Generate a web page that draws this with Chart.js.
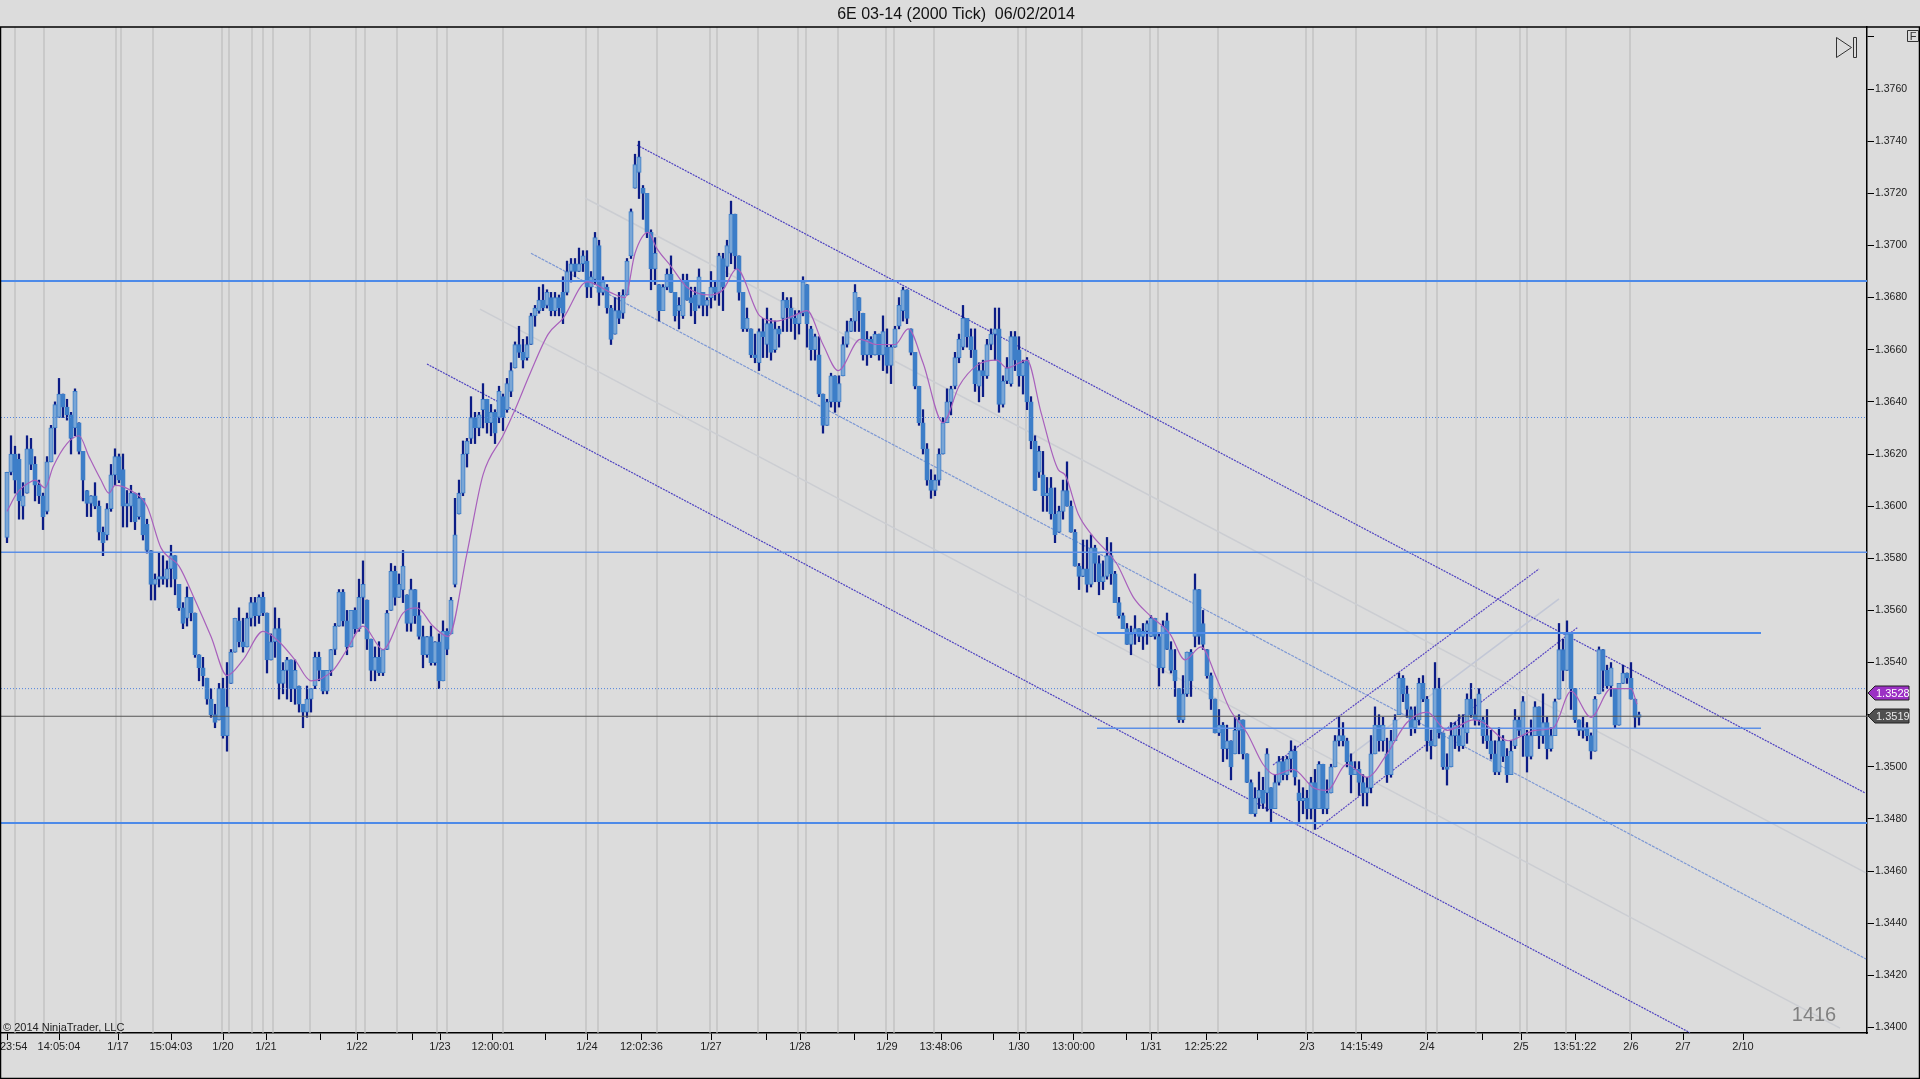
<!DOCTYPE html>
<html lang="en">
<head>
<meta charset="UTF-8" />
<title>6E 03-14 (2000 Tick)</title>
<style>
    body { margin: 0; background: #dcdcdc; overflow: hidden; }
    canvas { display: block; }
</style>
<script src="https://cdn.jsdelivr.net/npm/chart.js"></script>
</head>
<body>
<canvas id="chart" width="1920" height="1079"></canvas>
<script>
// all prices are in pips (1.3612 -> 13612), x values are bar numbers
const opens = [
13588,13613,13620,13618,13600,13605,13622,13616,13608,13604,
13598,13617,13630,13634,13643,13638,13635,13630,13632,13621,
13606,13601,13604,13600,13590,13589,13599,13612,13619,13614,
13600,13600,13605,13596,13603,13593,13583,13570,13572,13573,
13572,13576,13581,13570,13561,13557,13565,13559,13543,13538,
13534,13526,13520,13518,13530,13512,13532,13544,13556,13548,
13546,13557,13563,13558,13565,13559,13541,13548,13553,13532,
13537,13541,13530,13531,13524,13521,13526,13531,13542,13537,
13529,13537,13545,13554,13567,13556,13546,13560,13553,13565,
13564,13549,13537,13542,13536,13545,13560,13575,13565,13568,
13566,13555,13568,13558,13550,13543,13550,13540,13548,13533,
13552,13551,13570,13597,13605,13620,13626,13634,13630,13637,
13641,13632,13636,13634,13642,13637,13644,13653,13662,13659,
13657,13662,13673,13675,13679,13677,13680,13675,13680,13682,
13682,13690,13693,13690,13693,13694,13684,13687,13700,13682,
13684,13676,13666,13675,13674,13681,13696,13722,13728,13722,
13720,13705,13691,13685,13675,13684,13689,13682,13675,13673,
13686,13680,13681,13677,13682,13677,13680,13684,13682,13695,
13692,13697,13712,13696,13682,13668,13668,13658,13655,13667,
13662,13670,13660,13668,13672,13679,13676,13672,13670,13674,
13685,13668,13660,13658,13643,13631,13640,13650,13640,13650,
13662,13667,13671,13680,13674,13658,13664,13658,13666,13658,
13661,13654,13661,13669,13675,13683,13668,13659,13646,13632,
13622,13610,13606,13610,13620,13632,13640,13646,13657,13661,
13672,13665,13660,13646,13652,13650,13662,13666,13668,13639,
13648,13647,13665,13660,13650,13656,13640,13625,13613,13612,
13604,13607,13597,13590,13598,13606,13600,13590,13577,13573,
13576,13570,13584,13578,13571,13573,13581,13574,13563,13558,
13553,13547,13551,13553,13550,13552,13550,13557,13550,13538,
13556,13545,13537,13530,13518,13528,13544,13550,13568,13555,
13545,13535,13526,13513,13516,13507,13510,13505,13514,13518,
13505,13494,13482,13488,13491,13490,13492,13484,13494,13502,
13497,13503,13506,13490,13487,13488,13484,13494,13484,13501,
13484,13490,13500,13510,13512,13510,13502,13497,13499,13494,
13490,13492,13505,13516,13510,13505,13497,13510,13520,13534,
13528,13522,13515,13518,13532,13526,13510,13508,13530,13513,
13500,13500,13512,13512,13508,13513,13526,13520,13518,13518,
13512,13510,13505,13498,13510,13504,13497,13508,13518,13512,
13512,13504,13512,13523,13512,13517,13507,13512,13526,13545,
13537,13551,13530,13518,13514,13515,13512,13506,13528,13545,
13537,13531,13530,13516,13532,13536,13534,13526,13519];
const highs = [
13613,13627,13623,13620,13609,13627,13626,13619,13610,13605,
13619,13631,13640,13649,13643,13641,13636,13645,13632,13621,
13606,13604,13609,13602,13592,13601,13616,13622,13620,13620,
13606,13608,13605,13605,13603,13595,13583,13574,13582,13581,
13579,13585,13581,13570,13563,13569,13565,13559,13543,13542,
13534,13530,13524,13532,13534,13540,13545,13557,13561,13557,
13559,13565,13565,13566,13567,13559,13551,13561,13557,13540,
13542,13541,13541,13531,13524,13531,13530,13544,13544,13537,
13537,13545,13555,13568,13568,13560,13560,13561,13572,13579,
13564,13549,13546,13548,13545,13560,13578,13577,13574,13583,
13566,13572,13568,13563,13554,13550,13554,13548,13551,13556,
13553,13565,13603,13610,13625,13626,13642,13636,13636,13647,
13641,13639,13637,13646,13643,13649,13655,13663,13669,13664,
13665,13674,13677,13684,13685,13683,13682,13682,13681,13688,
13694,13695,13695,13699,13698,13698,13690,13705,13702,13688,
13685,13677,13680,13682,13683,13695,13714,13735,13740,13723,
13720,13706,13703,13685,13685,13691,13696,13682,13680,13689,
13689,13684,13684,13691,13682,13680,13690,13686,13697,13697,
13702,13717,13712,13696,13682,13676,13668,13666,13668,13672,
13676,13672,13671,13669,13682,13680,13680,13675,13675,13688,
13685,13669,13666,13665,13643,13641,13651,13650,13650,13665,
13671,13672,13685,13680,13674,13667,13665,13667,13666,13673,
13668,13662,13669,13680,13684,13683,13668,13659,13646,13637,
13624,13614,13612,13622,13634,13645,13646,13659,13666,13677,
13672,13668,13668,13655,13656,13664,13668,13676,13676,13650,
13657,13667,13667,13665,13656,13657,13642,13627,13623,13621,
13611,13611,13607,13600,13610,13617,13602,13591,13578,13587,
13587,13589,13585,13581,13579,13588,13586,13575,13565,13559,
13555,13554,13558,13553,13555,13556,13558,13557,13551,13556,
13559,13548,13545,13530,13535,13544,13545,13574,13568,13560,
13545,13536,13526,13522,13517,13516,13510,13519,13520,13518,
13505,13495,13492,13498,13496,13507,13492,13497,13504,13504,
13504,13510,13508,13495,13492,13491,13496,13499,13502,13501,
13495,13501,13512,13519,13517,13511,13505,13502,13502,13497,
13496,13512,13523,13520,13519,13511,13514,13520,13536,13535,
13531,13523,13523,13534,13535,13527,13514,13540,13534,13513,
13505,13517,13517,13520,13520,13528,13532,13526,13530,13519,
13522,13514,13510,13515,13512,13507,13510,13522,13519,13527,
13514,13518,13525,13523,13528,13519,13515,13526,13555,13549,
13556,13551,13530,13518,13519,13517,13513,13527,13546,13545,
13539,13540,13530,13532,13539,13536,13540,13526,13521];
const lows = [
13586,13612,13605,13595,13595,13605,13614,13602,13601,13591,
13597,13617,13620,13634,13634,13633,13620,13627,13620,13602,
13596,13596,13599,13587,13581,13587,13598,13608,13609,13592,
13592,13594,13591,13595,13587,13582,13564,13564,13569,13570,
13569,13569,13566,13560,13553,13554,13556,13542,13533,13531,
13524,13519,13515,13518,13511,13506,13532,13544,13546,13544,
13546,13554,13554,13555,13558,13536,13541,13542,13526,13528,
13526,13525,13524,13521,13515,13519,13521,13530,13533,13528,
13528,13535,13543,13554,13554,13543,13546,13551,13552,13555,
13545,13533,13533,13535,13535,13545,13560,13562,13565,13563,
13552,13552,13555,13549,13538,13542,13539,13539,13530,13533,
13543,13551,13569,13597,13604,13615,13624,13624,13627,13630,
13628,13627,13624,13632,13629,13636,13642,13653,13657,13653,
13656,13662,13669,13674,13675,13676,13673,13673,13673,13670,
13681,13686,13688,13690,13690,13680,13680,13685,13677,13681,
13674,13662,13666,13670,13672,13681,13695,13722,13718,13710,
13703,13683,13685,13671,13675,13683,13682,13671,13668,13672,
13679,13673,13670,13676,13673,13673,13676,13679,13677,13675,
13688,13693,13691,13679,13667,13667,13657,13655,13652,13657,
13657,13656,13659,13661,13667,13667,13667,13664,13666,13673,
13661,13656,13656,13642,13628,13631,13638,13636,13638,13650,
13661,13667,13667,13667,13656,13654,13657,13658,13656,13652,
13651,13647,13661,13668,13671,13670,13658,13645,13631,13620,
13608,13603,13604,13608,13620,13632,13635,13645,13655,13660,
13661,13657,13644,13640,13642,13649,13660,13656,13636,13638,
13647,13646,13652,13646,13643,13637,13622,13606,13611,13598,
13598,13595,13586,13590,13595,13600,13590,13577,13568,13573,
13567,13569,13571,13566,13568,13572,13570,13563,13557,13553,
13547,13543,13547,13548,13545,13547,13550,13549,13531,13536,
13545,13536,13527,13517,13517,13527,13527,13546,13547,13545,
13534,13522,13513,13512,13502,13503,13495,13505,13505,13503,
13494,13482,13481,13484,13484,13483,13479,13484,13493,13495,
13495,13498,13493,13479,13482,13480,13480,13476,13484,13482,
13482,13490,13500,13508,13508,13500,13490,13497,13489,13485,
13485,13490,13505,13506,13506,13494,13496,13510,13520,13525,
13519,13512,13513,13516,13525,13506,13503,13508,13511,13499,
13493,13500,13507,13506,13507,13509,13519,13516,13516,13509,
13507,13503,13497,13497,13502,13494,13497,13507,13512,13504,
13498,13503,13512,13507,13509,13503,13506,13512,13526,13533,
13537,13522,13517,13512,13511,13510,13503,13506,13528,13529,
13530,13527,13515,13516,13532,13532,13526,13515,13516];
const closes = [
13613,13620,13610,13602,13604,13622,13616,13608,13604,13596,
13617,13630,13639,13643,13638,13635,13626,13644,13621,13610,
13601,13604,13600,13590,13586,13599,13612,13619,13610,13600,
13601,13605,13594,13603,13589,13583,13570,13572,13573,13572,
13576,13581,13572,13561,13555,13565,13559,13543,13538,13535,
13526,13520,13517,13530,13512,13523,13544,13557,13548,13546,
13557,13563,13558,13565,13559,13541,13548,13553,13532,13537,
13541,13530,13537,13524,13521,13526,13530,13542,13537,13529,
13537,13545,13554,13567,13556,13546,13560,13553,13565,13570,
13549,13537,13542,13536,13545,13559,13575,13565,13570,13577,
13555,13568,13558,13550,13543,13550,13540,13548,13533,13552,
13545,13564,13589,13605,13620,13625,13634,13630,13635,13641,
13632,13636,13628,13644,13634,13647,13652,13662,13659,13656,
13662,13673,13676,13679,13676,13682,13675,13680,13676,13674,
13690,13693,13690,13693,13696,13684,13688,13703,13682,13686,
13676,13664,13675,13672,13681,13694,13713,13731,13734,13720,
13705,13691,13697,13675,13684,13689,13682,13673,13677,13686,
13679,13678,13675,13688,13677,13679,13684,13682,13696,13684,
13700,13712,13696,13682,13668,13672,13658,13657,13667,13665,
13670,13659,13668,13666,13679,13676,13672,13670,13674,13686,
13670,13660,13665,13643,13631,13640,13650,13640,13647,13662,
13667,13671,13682,13675,13658,13664,13658,13666,13658,13667,
13654,13661,13668,13677,13683,13672,13659,13646,13632,13622,
13610,13606,13610,13620,13632,13640,13645,13657,13664,13672,
13665,13660,13647,13652,13650,13662,13666,13668,13639,13648,
13653,13665,13656,13650,13655,13640,13625,13606,13621,13604,
13605,13597,13589,13598,13606,13600,13590,13577,13573,13576,
13570,13584,13578,13571,13573,13581,13574,13563,13558,13553,
13547,13551,13553,13550,13552,13555,13557,13550,13538,13554,
13545,13537,13533,13518,13528,13544,13533,13568,13550,13547,
13535,13526,13513,13516,13507,13510,13500,13514,13518,13505,
13494,13482,13488,13491,13486,13505,13484,13494,13502,13497,
13503,13506,13496,13487,13488,13484,13494,13484,13501,13484,
13490,13500,13510,13512,13510,13502,13497,13499,13494,13490,
13492,13505,13516,13510,13516,13497,13510,13518,13534,13528,
13522,13515,13518,13532,13526,13510,13508,13530,13513,13500,
13499,13512,13516,13508,13515,13526,13520,13518,13528,13512,
13510,13505,13498,13510,13504,13497,13506,13518,13514,13525,
13504,13512,13523,13512,13517,13507,13512,13525,13545,13537,
13551,13530,13518,13514,13515,13512,13506,13526,13545,13537,
13531,13538,13516,13532,13536,13534,13526,13519,13520];

const maBars = [1,3.5,6.5,8,10.5,12.5,16,19,21.5,24.5,26.5,28,32,36,39.5,44,48,52,56,60,65,69,73,77,82.5,86,90,95,100,103.5,107.5,111.3,116,120,125,128,131.8,136.3,140,146,151.8,155.5,158,161.3,163.4,167,171,176.8,180,183.4,189.2,193.4,197.6,201,205,208.8,214.3,218.4,223,226.3,230,235,239,243.5,248.4,251,256,259.5,263.8,265.5,268.8,272.2,278.4,282.6,286.75,291.75,295.5,299.5,303.4,306.75,311,315,318,322.5,327.6,331,336,341,346,351,356,361,367.7,370,376.3,383,387.6,392,397,402,407,408.5];
const maValues = [13598,13605,13609,13610,13607,13615,13624,13627,13619,13610,13605,13608,13606,13600,13584,13577,13564,13550,13535,13541,13552,13548,13541,13533,13537,13545,13554,13545,13559,13561,13554,13550,13582,13612,13627,13637,13651,13666,13672,13686,13682,13680,13697,13705,13699,13692,13684,13681,13683,13691,13673,13671,13673,13675,13662,13652,13664,13662,13662,13668,13655,13632,13646,13654,13656,13653,13656,13636,13614,13612,13597,13589,13578,13565,13558,13551,13541,13546,13534,13522,13513,13501,13497,13499,13492,13491,13501,13496,13505,13517,13521,13514,13518,13517,13510,13514,13515,13529,13519,13530,13530,13524];

const tickBars = [1.15,14,28.75,42,55,65.75,79.25,88.5,102.25,109.25,122.5,135.5,146,159.6,177,190.75,199.25,212.75,221,234.5,247.5,254,267.6,280.75,287,300.75,313.5,326,339.6,356,369.75,379.5,393,407,420,435];
const tickLabels = ["    23:54","14:05:04","1/17","15:04:03","1/20","1/21","","1/22","","1/23","12:00:01","","1/24","12:02:36","1/27","","1/28","","1/29","13:48:06","","1/30","13:00:00","","1/31","12:25:22","","2/3","14:15:49","2/4","","2/5","13:51:22","2/6","2/7","2/10"];
const priceTicks = [13400,13420,13440,13460,13480,13500,13520,13540,13560,13580,13600,13620,13640,13660,13680,13700,13720,13740,13760,13780];

const sessionBars = [3,10.25,28.25,29.5,37.5,54.75,56.5,62.25,65,67.5,76.75,88.25,90.5,98.5,108.5,111,125,145.75,148.75,163.5,176.75,178.5,188.75,198.75,200.75,208.75,220.75,222.75,232.75,253.75,255.75,269.75,286.75,288.75,303.75,325.75,327.5,338.25,355.75,358.5,368.25,379.25,381,390.75,406.75];

const thickLevels = [13686.4,13478.5];
const thinLevels = [13582.3];
const dottedLevels = [13634,13530];
const lastLine = 13519.4;
const lastPrice = 13519;
const markerPrice = 13528;
const rangeHigh = [273.5,439.5,13551.3];
const rangeLow = [273.5,439.5,13514.8];

// [bar, price, bar, price]
const channelLines = [[158.5,13738.5,465.5,13490],[106,13654.5,421.75,13398]];
const midLine = [132,13697,465.75,13426.3];
const fadedLines = [[145.5,13718.2,465.75,13459.3],[119.25,13675.6,459.25,13399.8]];
const risingLines = [[328.5,13476.2,393.75,13553.6],[317.5,13500.7,384,13575.9]];
const risingFaded = [336,13503.4,389,13564.4];

const Y_MIN = 13397.9, Y_MAX = 13783.8;
const X_MIN = -0.5, X_MAX = 466;

function lineSet(x0, y0, x1, y1, color, width, dash, order) {
    return {
        type: "line",
        data: [{ x: x0, y: y0 }, { x: x1, y: y1 }],
        borderColor: color,
        borderWidth: width,
        borderDash: dash || [],
        pointRadius: 0,
        order: order,
    };
}

const barNo = opens.map((v, i) => i + 1);
const datasets = [];

sessionBars.forEach((b) => datasets.push(lineSet(b, Y_MIN, b, Y_MAX, "#bcbcbc", 1.2, null, 20)));
fadedLines.forEach((l) => datasets.push(lineSet(l[0], l[1], l[2], l[3], "#cbcdd2", 1.5, null, 15)));
datasets.push(lineSet(risingFaded[0], risingFaded[1], risingFaded[2], risingFaded[3], "#c2c7d6", 1.5, null, 15));
datasets.push(lineSet(midLine[0], midLine[1], midLine[2], midLine[3], "#7d98d4", 1.2, [3, 1], 14));
channelLines.forEach((l) => datasets.push(lineSet(l[0], l[1], l[2], l[3], "#4c40c0", 1.2, [2, 1], 13)));
risingLines.forEach((l) => datasets.push(lineSet(l[0], l[1], l[2], l[3], "#5a48c4", 1.2, [2, 1], 13)));

datasets.push({
    type: "bar",
    data: barNo.map((b, i) => ({ x: b, y: [lows[i], highs[i]] })),
    backgroundColor: "#0c1c86",
    barThickness: 1.6,
    grouped: false,
    order: 8,
});
datasets.push({
    type: "bar",
    data: barNo.map((b, i) => ({ x: b, y: [opens[i], closes[i]] })),
    backgroundColor: barNo.map((b, i) => (closes[i] >= opens[i] ? "#7aa6d6" : "#3d7ec8")),
    borderColor: "#3d7ec8",
    borderWidth: 1,
    borderSkipped: false,
    barThickness: 4.4,
    minBarLength: 2,
    grouped: false,
    order: 7,
});

thickLevels.forEach((p) => datasets.push(lineSet(X_MIN, p, X_MAX, p, "#4d8ae8", 2, null, 4)));
thinLevels.forEach((p) => datasets.push(lineSet(X_MIN, p, X_MAX, p, "#5c8fe6", 1.5, null, 4)));
dottedLevels.forEach((p) => datasets.push(lineSet(X_MIN, p, X_MAX, p, "#4f83dc", 1, [1, 2], 4)));
datasets.push(lineSet(rangeHigh[0], rangeHigh[2], rangeHigh[1], rangeHigh[2], "#4d8ae8", 2, null, 4));
datasets.push(lineSet(rangeLow[0], rangeLow[2], rangeLow[1], rangeLow[2], "#5c8fe6", 1.5, null, 4));
datasets.push(lineSet(X_MIN, lastLine, X_MAX, lastLine, "#555555", 1.2, null, 3));

datasets.push({
    type: "line",
    data: maBars.map((b, i) => ({ x: b, y: maValues[i] })),
    borderColor: "#a860bc",
    borderWidth: 1.2,
    pointRadius: 0,
    cubicInterpolationMode: "monotone",
    order: 2,
});

function priceText(v) {
    return (v / 10000).toFixed(4);
}

// frame, price tags and the small chart controls
const furniture = {
    id: "furniture",
    afterDraw(chart) {
        const ctx = chart.ctx;
        const y = chart.scales.y;
        const W = chart.width, H = chart.height;
        ctx.save();

        ctx.strokeStyle = "#000";
        ctx.lineWidth = 1.5;
        ctx.beginPath();
        ctx.moveTo(0, chart.chartArea.top);
        ctx.lineTo(W, chart.chartArea.top);
        ctx.moveTo(0.5, chart.chartArea.top);
        ctx.lineTo(0.5, H - 0.5);
        ctx.lineTo(W - 0.5, H - 0.5);
        ctx.lineTo(W - 0.5, chart.chartArea.top);
        ctx.stroke();

        [[markerPrice, "#9b30c4", "#fff"], [lastPrice, "#505050", "#e8e8e8"]].forEach((t) => {
            const py = Math.round(y.getPixelForValue(t[0])) - 1;
            ctx.beginPath();
            ctx.moveTo(1868, py);
            ctx.lineTo(1875, py - 7);
            ctx.lineTo(1909, py - 7);
            ctx.lineTo(1909, py + 7);
            ctx.lineTo(1875, py + 7);
            ctx.closePath();
            ctx.fillStyle = t[1];
            ctx.fill();
            ctx.lineWidth = 1;
            ctx.strokeStyle = "#222";
            ctx.stroke();
            ctx.fillStyle = t[2];
            ctx.font = "11px 'Liberation Sans'";
            ctx.textAlign = "left";
            ctx.textBaseline = "middle";
            ctx.fillText(priceText(t[0]), 1876, py + 0.5);
        });

        ctx.strokeStyle = "#333";
        ctx.lineWidth = 1;
        ctx.beginPath();
        ctx.moveTo(1836.5, 37.5);
        ctx.lineTo(1836.5, 57.5);
        ctx.lineTo(1851.5, 47.5);
        ctx.closePath();
        ctx.rect(1853.5, 37.5, 3, 20);
        ctx.rect(1907.5, 30.5, 11, 11);
        ctx.stroke();

        ctx.fillStyle = "#333";
        ctx.font = "11px 'Liberation Sans'";
        ctx.textAlign = "center";
        ctx.textBaseline = "middle";
        ctx.fillText("F", 1913, 36.5);

        ctx.fillStyle = "#222";
        ctx.font = "11px 'Liberation Sans'";
        ctx.textAlign = "left";
        ctx.textBaseline = "alphabetic";
        ctx.fillText("© 2014 NinjaTrader, LLC", 3, 1031);

        ctx.fillStyle = "#808080";
        ctx.font = "20px 'Liberation Sans'";
        ctx.textAlign = "center";
        ctx.fillText("1416", 1814, 1021);

        ctx.restore();
    },
};

new Chart(document.getElementById("chart"), {
    type: "bar",
    data: { datasets: datasets },
    plugins: [furniture],
    options: {
        responsive: false,
        animation: false,
        devicePixelRatio: 1,
        layout: { padding: { left: 1, right: 0, top: 0, bottom: 1 } },
        plugins: {
            legend: { display: false },
            tooltip: { enabled: false },
            title: {
                display: true,
                text: "6E 03-14 (2000 Tick)  06/02/2014  ",
                color: "#111",
                font: { family: "'Liberation Sans'", size: 16, weight: "normal" },
                padding: { top: 4.8, bottom: 3 },
            },
        },
        scales: {
            x: {
                type: "linear",
                offset: false,
                min: X_MIN,
                max: X_MAX,
                afterBuildTicks(scale) {
                    scale.ticks = tickBars.map((v) => ({ value: v }));
                },
                afterFit(scale) {
                    scale.height = 45;
                    scale.paddingLeft = 0;
                    scale.paddingRight = 0;
                },
                grid: { drawOnChartArea: false, color: "#000", tickColor: "#000", tickLength: 7, offset: false },
                border: { display: true, color: "#000", width: 1.5 },
                ticks: {
                    autoSkip: false,
                    maxRotation: 0,
                    padding: 0.5,
                    color: "#222",
                    font: { family: "'Liberation Sans'", size: 11 },
                    callback: (v, i) => tickLabels[i],
                },
            },
            y: {
                position: "right",
                min: Y_MIN,
                max: Y_MAX,
                afterBuildTicks(scale) {
                    scale.ticks = priceTicks.map((v) => ({ value: v }));
                },
                afterFit(scale) {
                    scale.width = 53;
                    scale.paddingTop = 0;
                    scale.paddingBottom = 0;
                },
                grid: { drawOnChartArea: false, color: "#000", tickColor: "#000", tickLength: 7 },
                border: { display: true, color: "#000", width: 1.5 },
                ticks: {
                    autoSkip: false,
                    padding: 1,
                    color: "#222",
                    font: { family: "'Liberation Sans'", size: 10.5 },
                    callback: (v) => (v === 13780 ? "" : priceText(v)),
                },
            },
        },
    },
});
</script>
</body>
</html>
